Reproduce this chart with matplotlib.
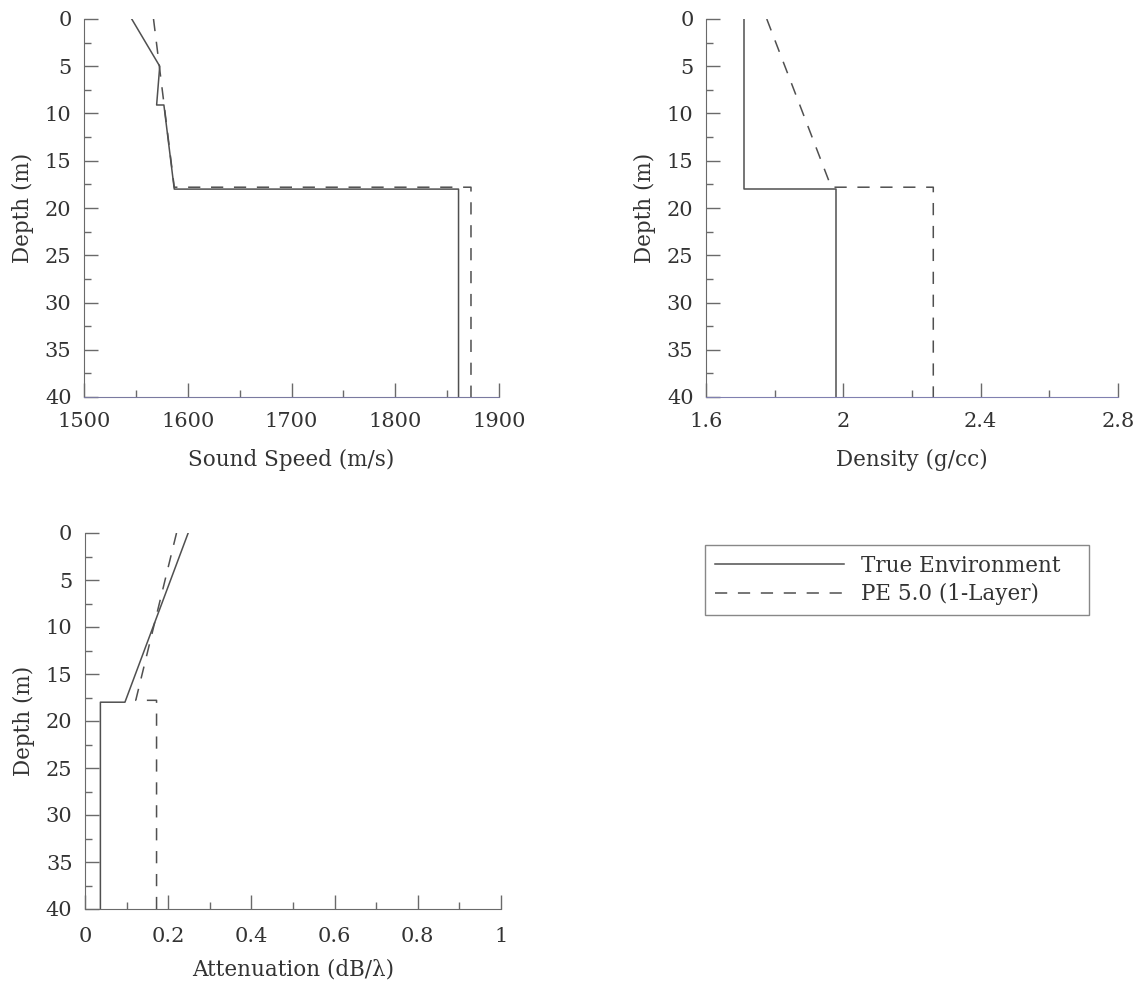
import numpy as np
import matplotlib
matplotlib.use('Agg')
import matplotlib.pyplot as plt
from matplotlib.ticker import MultipleLocator, FuncFormatter

# --- data ---
# sound speed profiles (m/s) vs depth (m)
ss_true_c = [1546, 1573, 1570, 1577, 1587, 1861, 1861]
ss_true_z = [0, 5, 9.1, 9.1, 18, 18, 40]
ss_pe_c = [1567, 1587, 1873, 1873]
ss_pe_z = [0, 17.8, 17.8, 40]

# density (g/cc)
rho_true = [1.71, 1.71, 1.98, 1.98]
rho_true_z = [0, 18, 18, 40]
rho_pe = [1.777, 1.965, 2.262, 2.262]
rho_pe_z = [0, 17.8, 17.8, 40]

# attenuation (dB/lambda)
att_true = [0.248, 0.096, 0.037, 0.037]
att_true_z = [0, 18, 18, 40]
att_pe = [0.22, 0.122, 0.172, 0.172]
att_pe_z = [0, 17.8, 17.8, 40]

labels = ['True Environment', 'PE 5.0 (1-Layer)']

plt.rcParams['font.family'] = ['DejaVu Serif']
plt.rcParams['font.size'] = 15

line_col = '#505050'
spine_col = '#6a6a6a'
text_col = '#333333'
dash = (8, 7)

fig = plt.figure(figsize=(11.41, 9.92), dpi=100)
W, H = 1141., 992.

def make_ax(x0, x1, y0, y1):
    return fig.add_axes([x0 / W, 1 - y1 / H, (x1 - x0) / W, (y1 - y0) / H])

ax1 = make_ax(84, 499, 19, 397)
ax2 = make_ax(706, 1118, 19, 397)
ax3 = make_ax(85, 501, 533, 909)

fmt_g = FuncFormatter(lambda v, p: '%g' % round(v, 2))

def style(ax, xlim, xmaj, xmin, xlabel, tpad, lpad, bottom_col):
    ax.set_xlim(*xlim)
    ax.set_ylim(40, 0)
    ax.xaxis.set_major_locator(MultipleLocator(xmaj))
    ax.xaxis.set_minor_locator(MultipleLocator(xmin))
    ax.yaxis.set_major_locator(MultipleLocator(5))
    ax.yaxis.set_minor_locator(MultipleLocator(2.5))
    ax.xaxis.set_major_formatter(fmt_g)
    for s in ['top', 'right']:
        ax.spines[s].set_visible(False)
    ax.spines['left'].set_color(spine_col)
    ax.spines['bottom'].set_color(bottom_col)
    ax.tick_params(which='both', direction='in', color=spine_col, labelcolor=text_col)
    ax.tick_params(which='major', length=10, width=1, labelsize=15)
    ax.tick_params(axis='y', which='major', pad=9)
    ax.tick_params(axis='x', which='major', pad=tpad)
    ax.tick_params(which='minor', length=5, width=1)
    ax.set_ylabel('Depth (m)', color=text_col, labelpad=8, fontsize=15.5)
    ax.set_xlabel(xlabel, color=text_col, labelpad=lpad, fontsize=15.5)

l1, = ax1.plot(ss_true_c, ss_true_z, color=line_col, lw=1.1)
l2, = ax1.plot(ss_pe_c, ss_pe_z, color=line_col, lw=1.1, dashes=dash)
style(ax1, (1500, 1900), 100, 50, 'Sound Speed (m/s)', 11, 13, '#7a7aa0')

ax2.plot(rho_true, rho_true_z, color=line_col, lw=1.1)
ax2.plot(rho_pe, rho_pe_z, color=line_col, lw=1.1, dashes=dash)
style(ax2, (1.6, 2.8), 0.4, 0.2, 'Density (g/cc)', 11, 13, '#8080b0')

ax3.plot(att_true, att_true_z, color=line_col, lw=1.1)
ax3.plot(att_pe, att_pe_z, color=line_col, lw=1.1, dashes=dash)
style(ax3, (0, 1), 0.2, 0.1, 'Attenuation (dB/λ)', 13, 9, spine_col)

leg = fig.legend([l1, l2], labels, loc='upper left',
                 bbox_to_anchor=(705 / W, 1 - 622 / H, 384 / W, 77 / H),
                 mode='expand', frameon=True, fancybox=False,
                 handlelength=6.0, handletextpad=0.8, borderpad=0.45,
                 labelspacing=0.3, fontsize=15.5, borderaxespad=0)
leg.get_frame().set_edgecolor(spine_col)
leg.get_frame().set_linewidth(1.0)
for t in leg.get_texts():
    t.set_color(text_col)

fig.savefig('out.png', dpi=100)
